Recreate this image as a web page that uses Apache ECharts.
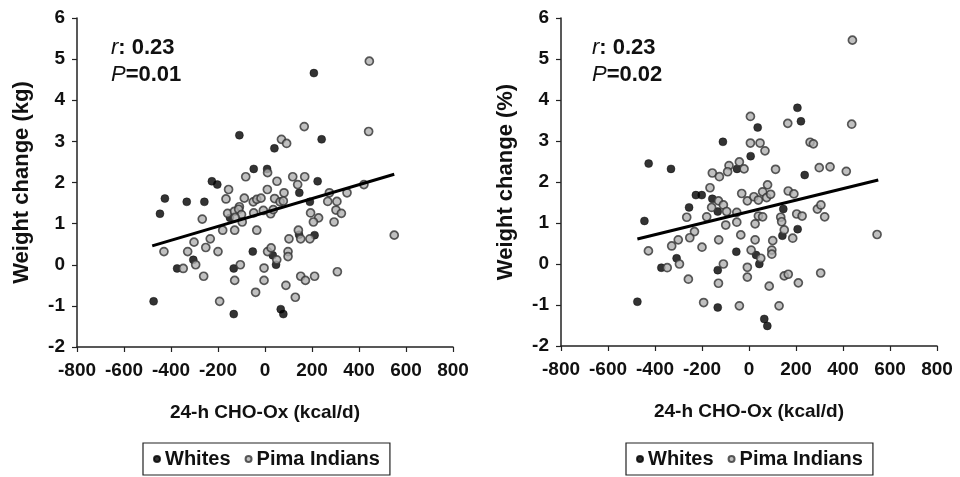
<!DOCTYPE html>
<html><head><meta charset="utf-8">
<script src="https://cdn.jsdelivr.net/npm/echarts@6/dist/echarts.min.js"></script>
<style>html,body{margin:0;padding:0;background:#fff}#c{width:960px;height:477px}</style>
</head><body><div id="c"></div>
<script>
// x: 24-h CHO-Ox (kcal/d), y: weight change
const xTicks = [-800,-600,-400,-200,0,200,400,600,800];
const yTicks = [-2,-1,0,1,2,3,4,5,6];
const seriesNames = ['Whites','Pima Indians'];
const leftStats = {r:'0.23', P:'0.01'};
const rightStats = {r:'0.23', P:'0.02'};

// Left panel: weight change (kg)
const leftWhites = [[208,4.66],[-109,3.15],[241,3.05],[40,2.83],[-48,2.33],[9,2.33],[-226,2.03],[-203,1.95],[224,2.03],[146,1.75],[-426,1.61],[-333,1.53],[-258,1.53],[191,1.53],[-447,1.24],[-149,1.14],[145,0.73],[211,0.72],[-52,0.32],[33,0.23],[47,0.0],[-305,0.12],[-374,-0.09],[-133,-0.09],[-474,-0.89],[-133,-1.2],[67,-1.08],[78,-1.2]];
const leftPima = [[444,4.95],[167,3.36],[441,3.24],[70,3.05],[92,2.95],[11,2.24],[-82,2.14],[118,2.14],[169,2.14],[51,2.03],[139,1.95],[-155,1.83],[10,1.83],[81,1.75],[274,1.75],[349,1.75],[421,1.95],[-166,1.6],[-88,1.62],[-50,1.53],[-35,1.59],[-17,1.62],[41,1.61],[64,1.53],[78,1.55],[267,1.54],[306,1.54],[-267,1.11],[-109,1.41],[-159,1.25],[-130,1.3],[-112,1.35],[-100,1.22],[-127,1.15],[-97,1.04],[-48,1.26],[-7,1.32],[24,1.24],[35,1.34],[194,1.26],[228,1.14],[206,1.04],[302,1.33],[325,1.25],[294,1.04],[-180,0.84],[-129,0.84],[-35,0.84],[142,0.84],[152,0.63],[191,0.63],[102,0.63],[550,0.72],[-233,0.63],[-302,0.55],[-252,0.42],[-430,0.32],[-329,0.32],[-200,0.32],[11,0.32],[26,0.41],[50,0.12],[98,0.32],[98,0.2],[-295,0.0],[-348,-0.09],[-105,0.0],[-4,-0.08],[-261,-0.28],[-129,-0.38],[-4,-0.38],[152,-0.28],[172,-0.38],[211,-0.28],[308,-0.17],[89,-0.5],[-40,-0.67],[129,-0.79],[-193,-0.89]];
const leftFit = [[-480,0.46],[550,2.2]];

// Right panel: weight change (%)
const rightWhites = [[206,3.81],[221,3.48],[37,3.33],[-111,2.98],[7,2.63],[-427,2.45],[-332,2.32],[-51,2.32],[237,2.17],[-226,1.68],[-201,1.68],[-156,1.59],[-255,1.38],[-133,1.28],[146,1.34],[-445,1.05],[207,0.85],[142,0.69],[-54,0.3],[30,0.22],[44,0.0],[-308,0.14],[-373,-0.09],[-133,-0.15],[-475,-0.92],[-133,-1.06],[65,-1.34],[78,-1.51]];
const rightPima = [[440,5.46],[6,3.6],[165,3.43],[437,3.41],[6,2.95],[47,2.95],[68,2.76],[260,2.97],[274,2.93],[-156,2.22],[-126,2.13],[-85,2.4],[-41,2.49],[-91,2.25],[-21,2.32],[113,2.31],[299,2.35],[345,2.37],[414,2.26],[79,1.93],[-31,1.72],[-7,1.54],[21,1.64],[40,1.56],[58,1.76],[75,1.62],[92,1.7],[167,1.78],[191,1.71],[40,1.17],[58,1.15],[135,1.14],[203,1.22],[226,1.17],[291,1.34],[306,1.44],[322,1.15],[-166,1.86],[-130,1.54],[-109,1.44],[-159,1.38],[-95,1.28],[-265,1.14],[-180,1.15],[-52,1.26],[-99,0.95],[-52,1.02],[26,0.98],[139,1.03],[150,0.83],[186,0.63],[101,0.57],[26,0.59],[-35,0.71],[-129,0.59],[-200,0.41],[-232,0.79],[-252,0.64],[-301,0.59],[-329,0.44],[-428,0.32],[545,0.72],[9,0.34],[50,0.14],[97,0.34],[97,0.24],[-296,0.0],[-348,-0.09],[-109,0.0],[-7,-0.08],[-7,-0.32],[-258,-0.37],[-130,-0.47],[86,-0.54],[150,-0.29],[167,-0.25],[210,-0.46],[305,-0.22],[-193,-0.94],[-41,-1.02],[128,-1.02]];
const rightFit = [[-475,0.61],[550,2.05]];

const xTitle = '24-h CHO-Ox (kcal/d)';
const yTitles = ['Weight change (kg)', 'Weight change (%)'];

const FONT = '"Liberation Sans", Arial, sans-serif';
const chart = echarts.init(document.getElementById('c'), null, {renderer:'canvas'});

function xAx(i){
  return {gridIndex:i, type:'value', min:xTicks[0], max:xTicks[xTicks.length-1], interval:200,
    splitLine:{show:false},
    axisLine:{onZero:false, lineStyle:{color:'#222', width:1.5}},
    axisTick:{inside:false, length:5, lineStyle:{color:'#222', width:1.2}},
    axisLabel:{margin:14, color:'#111', fontFamily:FONT, fontWeight:'bold', fontSize:19},
    name:xTitle, nameLocation:'middle', nameGap:56,
    nameTextStyle:{color:'#111', fontFamily:FONT, fontWeight:'bold', fontSize:19}};
}
function yAx(i){
  return {gridIndex:i, type:'value', min:yTicks[0], max:yTicks[yTicks.length-1], interval:1,
    splitLine:{show:false},
    axisLine:{onZero:false, lineStyle:{color:'#222', width:1.5}},
    axisTick:{inside:false, length:5, lineStyle:{color:'#222', width:1.2}},
    axisLabel:{margin:12, color:'#111', fontFamily:FONT, fontWeight:'bold', fontSize:19},
    name:yTitles[i], nameLocation:'middle', nameGap:44, nameRotate:90,
    nameTextStyle:{color:'#111', fontFamily:FONT, fontWeight:'bold', fontSize:22}};
}
const whiteStyle = {color:'#000', borderColor:'#000', borderWidth:0.5};
const pimaStyle = {color:'#b0b0b0', borderColor:'#333', borderWidth:1.7};
function scat(name, data, i, style){
  return {name, type:'scatter', xAxisIndex:i, yAxisIndex:i, data, symbol:'circle', symbolSize:8,
    itemStyle:style, z:3, silent:true};
}
function fit(data, i){
  return {type:'line', xAxisIndex:i, yAxisIndex:i, data, symbol:'none', z:4, silent:true,
    lineStyle:{color:'#000', width:3}};
}
function statsTitle(st, left){
  return {left, top:29, text:'{i|r}: '+st.r+'\n{i|P}='+st.P,
    textStyle:{fontFamily:FONT, fontWeight:'bold', fontSize:22, color:'#111', lineHeight:27,
      rich:{i:{fontFamily:FONT, fontStyle:'italic', fontWeight:'normal', fontSize:22, color:'#111', lineHeight:27}}}};
}
function legendAt(left){
  return {left, top:443, width:245, data:seriesNames, icon:'circle', itemWidth:6, itemHeight:6, itemGap:14,
    padding:[6,10], borderColor:'#222', borderWidth:1.2, selectedMode:false,
    textStyle:{fontFamily:FONT, fontWeight:'bold', fontSize:20, color:'#111'}};
}
chart.setOption({
  animation:false,
  backgroundColor:'#fff',
  title:[statsTitle(leftStats, 106), statsTitle(rightStats, 587)],
  legend:[legendAt(143), legendAt(626)],
  grid:[{left:77, top:18, width:376, height:329}, {left:561, top:18, width:376, height:328}],
  xAxis:[xAx(0), xAx(1)],
  yAxis:[yAx(0), yAx(1)],
  series:[
    scat(seriesNames[0], leftWhites, 0, whiteStyle),
    scat(seriesNames[1], leftPima, 0, pimaStyle),
    fit(leftFit, 0),
    scat(seriesNames[0], rightWhites, 1, whiteStyle),
    scat(seriesNames[1], rightPima, 1, pimaStyle),
    fit(rightFit, 1)
  ]
});
</script></body></html>
